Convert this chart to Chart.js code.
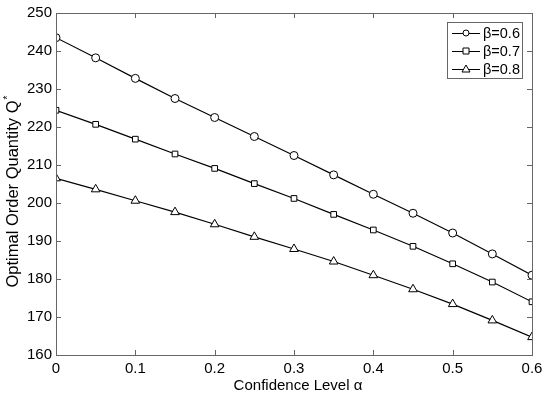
<!DOCTYPE html>
<html lang="en">
<head>
<meta charset="UTF-8">
<title>Optimal Order Quantity</title>
<script src="https://cdn.jsdelivr.net/npm/chart.js"></script>
<style>
  body { margin: 0; background: #fff; }
  #wrap { width: 550px; height: 398px; }
</style>
</head>
<body>
<div id="wrap"><canvas id="qChart" width="550" height="398"></canvas></div>
<script>
// confidence level alpha
const alphas = [0, 0.05, 0.1, 0.15, 0.2, 0.25, 0.3, 0.35, 0.4, 0.45, 0.5, 0.55, 0.6];
// Q* for each beta
const beta06 = [243.5, 238.2, 232.8, 227.5, 222.5, 217.5, 212.5, 207.4, 202.3, 197.3, 192.1, 186.6, 181.0];
const beta07 = [224.4, 220.7, 216.8, 212.9, 209.1, 205.1, 201.2, 197.0, 192.9, 188.6, 184.0, 179.2, 174.0];
const beta08 = [206.5, 203.6, 200.6, 197.6, 194.4, 191.1, 187.9, 184.6, 181.0, 177.3, 173.4, 169.1, 164.7];
const seriesNames = ['β=0.6', 'β=0.7', 'β=0.8'];
const markers = ['circle', 'rect', 'triangle'];
const xTicks = [0, 0.1, 0.2, 0.3, 0.4, 0.5, 0.6];
const yTicks = [160, 170, 180, 190, 200, 210, 220, 230, 240, 250];

const FONT = 'Liberation Sans, Arial, sans-serif';
const AXIS = '#666';

function toPoints(ys) {
    return alphas.map((a, i) => ({ x: a, y: ys[i] }));
}

const datasets = [beta06, beta07, beta08].map((ys, i) => ({
    label: seriesNames[i],
    data: toPoints(ys),
    borderColor: '#000',
    borderWidth: 1.2,
    pointStyle: markers[i],
    pointRadius: i === 2 ? 5 : 4,
    pointBackgroundColor: '#fff',
    pointBorderColor: '#000',
    pointBorderWidth: 1,
    tension: 0
}));

// box, inward ticks, axis titles and legend like the matlab figure
const framePlugin = {
    id: 'frame',
    afterDraw(chart) {
        const ctx = chart.ctx;
        const a = chart.chartArea;
        const xs = chart.scales.x, ys = chart.scales.y;
        ctx.save();
        ctx.strokeStyle = AXIS;
        ctx.lineWidth = 1;
        ctx.strokeRect(Math.round(a.left) + 0.5, Math.round(a.top) + 0.5,
            Math.round(a.right - a.left), Math.round(a.bottom - a.top));
        const tl = 5;
        ctx.beginPath();
        xTicks.forEach(v => {
            const px = Math.round(xs.getPixelForValue(v)) + 0.5;
            ctx.moveTo(px, a.bottom); ctx.lineTo(px, a.bottom - tl);
            ctx.moveTo(px, a.top); ctx.lineTo(px, a.top + tl);
        });
        yTicks.forEach(v => {
            const py = Math.round(ys.getPixelForValue(v)) + 0.5;
            ctx.moveTo(a.left, py); ctx.lineTo(a.left + tl, py);
            ctx.moveTo(a.right, py); ctx.lineTo(a.right - tl, py);
        });
        ctx.stroke();

        // axis titles
        ctx.fillStyle = '#000';
        ctx.font = '15px ' + FONT;
        ctx.textAlign = 'center';
        ctx.textBaseline = 'alphabetic';
        ctx.fillText('Confidence Level α', 298, 390);

        ctx.save();
        ctx.translate(18, 191);
        ctx.rotate(-Math.PI / 2);
        ctx.font = '16.5px ' + FONT;
        const main = 'Optimal Order Quantity Q';
        const w = ctx.measureText(main).width;
        ctx.textAlign = 'left';
        ctx.fillText(main, -w / 2 - 3, 0);
        ctx.font = '10px ' + FONT;
        ctx.fillText('*', w / 2 - 2, -7);
        ctx.restore();

        // legend
        const lx = 447, ly = 22, lw = 75, lh = 56;
        ctx.fillStyle = '#fff';
        ctx.fillRect(lx, ly, lw, lh);
        ctx.strokeStyle = AXIS;
        ctx.strokeRect(lx + 0.5, ly + 0.5, lw, lh);
        ctx.font = '14.5px ' + FONT;
        ctx.textAlign = 'left';
        ctx.textBaseline = 'middle';
        seriesNames.forEach((name, i) => {
            const cy = ly + 11 + i * 18;
            ctx.strokeStyle = '#000';
            ctx.beginPath();
            ctx.moveTo(lx + 5, cy + 0.5); ctx.lineTo(lx + 33, cy + 0.5);
            ctx.stroke();
            ctx.fillStyle = '#fff';
            const mx = lx + 19;
            ctx.beginPath();
            if (i === 0) {
                ctx.arc(mx, cy, 3, 0, Math.PI * 2);
            } else if (i === 1) {
                ctx.rect(mx - 3, cy - 3, 6, 6);
            } else {
                ctx.moveTo(mx, cy - 4); ctx.lineTo(mx + 4, cy + 3); ctx.lineTo(mx - 4, cy + 3); ctx.closePath();
            }
            ctx.fill(); ctx.stroke();
            ctx.fillStyle = '#000';
            ctx.fillText(name, lx + 36, cy + 1);
        });
        ctx.restore();
    }
};

const ctx = document.getElementById('qChart').getContext('2d');
new Chart(ctx, {
    type: 'line',
    data: { datasets: datasets },
    options: {
        responsive: false,
        animation: false,
        layout: { padding: { top: 13, right: 18, left: 0, bottom: 0 } },
        plugins: { legend: { display: false }, tooltip: { enabled: false } },
        scales: {
            x: {
                type: 'linear',
                min: 0, max: 0.6,
                afterBuildTicks(s) { s.ticks = xTicks.map(v => ({ value: v })); },
                afterFit(s) { s.height = 43; },
                grid: { display: false, drawTicks: false },
                border: { display: false },
                ticks: {
                    color: '#000',
                    font: { family: FONT, size: 15 },
                    padding: 5,
                    maxRotation: 0,
                    callback: v => String(v)
                }
            },
            y: {
                min: 160, max: 250,
                afterBuildTicks(s) { s.ticks = yTicks.map(v => ({ value: v })); },
                afterFit(s) { s.width = 56; },
                grid: { display: false, drawTicks: false },
                border: { display: false },
                ticks: {
                    color: '#000',
                    font: { family: FONT, size: 15 },
                    padding: 4
                }
            }
        }
    },
    plugins: [framePlugin]
});
</script>
</body>
</html>
